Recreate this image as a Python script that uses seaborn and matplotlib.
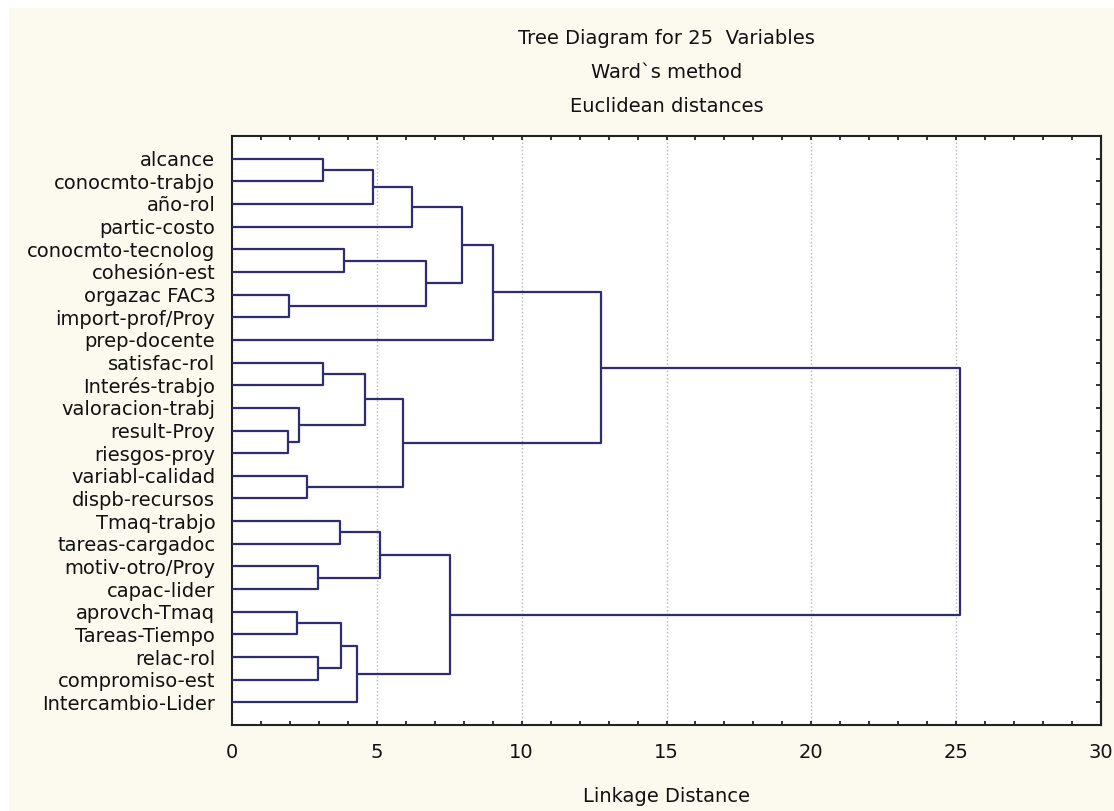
import matplotlib
matplotlib.use("Agg")
import matplotlib.pyplot as plt
from matplotlib.patches import Rectangle
from matplotlib.ticker import MultipleLocator
import pandas as pd
import seaborn as sns

# leaves, top to bottom
variables = [
    "alcance", "conocmto-trabjo", "año-rol", "partic-costo",
    "conocmto-tecnolog", "cohesión-est", "orgazac FAC3", "import-prof/Proy",
    "prep-docente", "satisfac-rol", "Interés-trabjo", "valoracion-trabj",
    "result-Proy", "riesgos-proy", "variabl-calidad", "dispb-recursos",
    "Tmaq-trabjo", "tareas-cargadoc", "motiv-otro/Proy", "capac-lider",
    "aprovch-Tmaq", "Tareas-Tiempo", "relac-rol", "compromiso-est",
    "Intercambio-Lider",
]

# linkage steps: ids < 25 are leaves, 25 + k is the cluster made at step k
merge_left = [12, 6, 20, 11, 14, 18, 22, 0, 9, 16, 27, 4,
              35, 33, 32, 34, 38, 39, 36, 40, 42, 45, 46, 47]
merge_right = [13, 7, 21, 25, 15, 19, 23, 1, 10, 17, 31, 5,
               24, 28, 2, 30, 29, 3, 26, 37, 43, 8, 41, 44]
merge_height = [1.94, 1.97, 2.23, 2.31, 2.60, 2.98, 2.98, 3.13, 3.13, 3.72, 3.78, 3.86,
                4.30, 4.59, 4.87, 5.10, 5.91, 6.20, 6.69, 7.52, 7.94, 9.01, 12.75, 25.14]

x_ticks = [0, 5, 10, 15, 20, 25, 30]

bg_cream = "#fcf9ef"
line_col = "#2d2c74"
txt_col = "#111111"
font_size = 14

sns.set_style("white")
plt.rcParams["font.family"] = ["DejaVu Sans"]

# build the elbow segments of the tree
n = len(variables)
pos = {i: i + 1 for i in range(n)}
hgt = {i: 0.0 for i in range(n)}
rows = []
for k, (a, b, h) in enumerate(zip(merge_left, merge_right, merge_height)):
    pts = [(hgt[a], pos[a]), (h, pos[a]), (h, pos[b]), (hgt[b], pos[b])]
    for d, p in pts:
        rows.append({"dist": d, "pos": p, "seg": k})
    pos[n + k] = (pos[a] + pos[b]) / 2
    hgt[n + k] = h
tree_df = pd.DataFrame(rows)

fig = plt.figure(figsize=(11.14, 8.11), dpi=100, facecolor="white")
fig.add_artist(Rectangle((9 / 1114, 0), 1, 1 - 8 / 811, transform=fig.transFigure,
                         facecolor=bg_cream, edgecolor="none", zorder=-10))
ax = fig.add_axes([232 / 1114, 1 - 725 / 811, (1101 - 232) / 1114, (725 - 136) / 811])
ax.set_facecolor("white")

sns.lineplot(data=tree_df, x="dist", y="pos", units="seg", estimator=None, sort=False,
             color=line_col, lw=1.6, ax=ax, legend=False, zorder=3)

ax.set_xlim(0, 30)
ax.set_ylim(26, 0)
ax.set_xticks(x_ticks)
ax.set_xticklabels([str(t) for t in x_ticks], fontsize=font_size, color=txt_col)
ax.xaxis.set_minor_locator(MultipleLocator(1))
ax.tick_params(axis="x", which="both", direction="in", top=True, bottom=True,
               length=3, width=1.3, color="#222222", pad=13)
ax.set_yticks(range(1, n + 1))
ax.set_yticklabels(variables, fontsize=font_size, color=txt_col)
ax.tick_params(axis="y", which="both", left=False, length=0, pad=12)
ax.grid(axis="x", which="major", ls=":", color="#b4b4c4", lw=1.0, zorder=0)
ax.set_xlabel("Linkage Distance", fontsize=font_size, color=txt_col, labelpad=18)
ax.set_ylabel("")
for sp in ax.spines.values():
    sp.set_visible(True)
    sp.set_color("#222222")
    sp.set_linewidth(1.5)

# right-hand ticks at every leaf row
ax_r = ax.twinx()
ax_r.set_ylim(26, 0)
ax_r.set_yticks(range(1, n + 1))
ax_r.set_yticklabels([])
ax_r.tick_params(axis="y", direction="in", right=True, length=3.5, width=1.3, color="#222222")
ax_r.spines["right"].set_color("#222222")
ax_r.spines["right"].set_linewidth(1.5)
for s in ["left", "top", "bottom"]:
    ax_r.spines[s].set_visible(False)

title_lines = ["Tree Diagram for 25  Variables", "Ward`s method", "Euclidean distances"]
title_y = [38, 72, 106]
cx = (232 + 1101) / 2 / 1114
for txt, yy in zip(title_lines, title_y):
    fig.text(cx, 1 - yy / 811, txt, ha="center", va="center", fontsize=font_size, color=txt_col)

fig.savefig("out.png", dpi=100, facecolor=fig.get_facecolor())
